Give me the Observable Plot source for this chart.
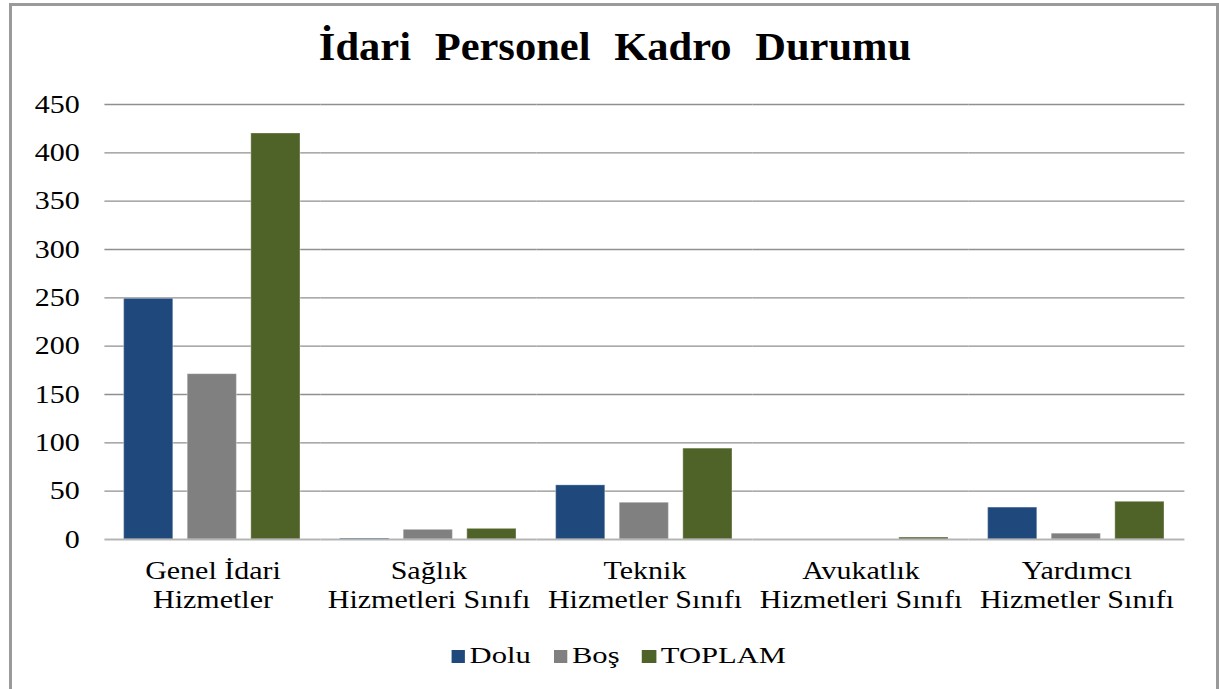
<!DOCTYPE html>
<html>
<head>
<meta charset="utf-8">
<script src="https://cdn.jsdelivr.net/npm/d3@7"></script>
<script src="https://cdn.jsdelivr.net/npm/@observablehq/plot@0.6"></script>
<style>
  html, body { margin: 0; padding: 0; background: #fff; width: 1219px; height: 689px; overflow: hidden; }
  body { font-family: "Liberation Serif", "Times New Roman", serif; position: relative; }
  #frame { position: absolute; left: 9px; top: 3px; width: 1204px; height: 720px; border: 3px solid #9a9a9a; }
  #title { position: absolute; left: 0; top: 24px; width: 1230px; text-align: center; font-size: 39px; line-height: 46px; font-weight: bold; word-spacing: 12px; color: #000; transform: scaleX(1.09); transform-origin: 615px 0; }
  #chart { position: absolute; left: 0; top: 90px; }
  #chart svg { transform: scaleX(1.2); transform-origin: 0 0; overflow: visible; }
  #chart svg text { font-family: "Liberation Serif", "Times New Roman", serif !important; }
  #legend { position: absolute; left: 0; top: 641px; width: 1237px; display: flex; justify-content: center; align-items: center; font-size: 23px; line-height: 30px; color: #000; transform: scaleX(1.33); transform-origin: 618.5px 0; }
  .item { display: flex; align-items: center; margin: 0 8.5px; }
  .sw { width: 10.5px; height: 13px; margin-right: 3.5px; }
</style>
</head>
<body>
<div id="frame"></div>
<div id="title">İdari Personel Kadro Durumu</div>
<div id="chart"></div>
<div id="legend"></div>
<script>
const categories = ["Genel İdari\nHizmetler", "Sağlık\nHizmetleri Sınıfı", "Teknik\nHizmetler Sınıfı", "Avukatlık\nHizmetleri Sınıfı", "Yardımcı\nHizmetler Sınıfı"];
const series = ["Dolu", "Boş", "TOPLAM"];
const dolu = [249, 1, 56, 0, 33];
const bos = [171, 10, 38, 0, 6];
const toplam = [420, 11, 94, 2, 39];
const colors = ["#1F497D", "#808080", "#4F6228"];
const yTicks = [0, 50, 100, 150, 200, 250, 300, 350, 400, 450];

const valuesBySeries = [dolu, bos, toplam];
const table = [];
categories.forEach((c, i) => {
  series.forEach((s, j) => table.push({category: c, series: s, value: valuesBySeries[j][i]}));
});

const font = '"Liberation Serif", "Times New Roman", serif';
const stretch = 1.2;

const plot = Plot.plot({
  width: Math.round(1219 / stretch),
  height: 540,
  marginLeft: 102 / stretch,
  marginRight: 33 / stretch,
  marginTop: 14,
  marginBottom: 91,
  style: {fontFamily: font, fontSize: "25px", color: "#000", background: "transparent", overflow: "visible"},
  fx: {domain: categories, paddingInner: 0, paddingOuter: 0, label: null},
  x: {domain: series, paddingInner: 0.225, paddingOuter: 0.2915, axis: null},
  y: {domain: [0, 450], label: null},
  color: {domain: series, range: colors},
  marks: [
    Plot.ruleY(yTicks.filter(d => d > 0), {stroke: "#8f8f8f", strokeWidth: 1.4}),
    Plot.axisY({ticks: yTicks, tickSize: 0, tickPadding: 21, fontSize: 25, label: null}),
    Plot.axisFx({anchor: "bottom", tickSize: 0, tickPadding: 19, fontSize: 25, lineHeight: 1.16, label: null}),
    Plot.barY(table, {fx: "category", x: "series", y: "value", fill: "series", stroke: "rgba(255,255,255,0.3)", strokeWidth: 1}),
    Plot.ruleY([0], {stroke: "#b5b5b5", strokeWidth: 2.2})
  ]
});
document.getElementById("chart").appendChild(plot);

const legend = document.getElementById("legend");
series.forEach((s, j) => {
  const item = document.createElement("div");
  item.className = "item";
  const sw = document.createElement("div");
  sw.className = "sw";
  sw.style.background = colors[j];
  const t = document.createElement("span");
  t.textContent = s;
  item.appendChild(sw);
  item.appendChild(t);
  legend.appendChild(item);
});
</script>
</body>
</html>
